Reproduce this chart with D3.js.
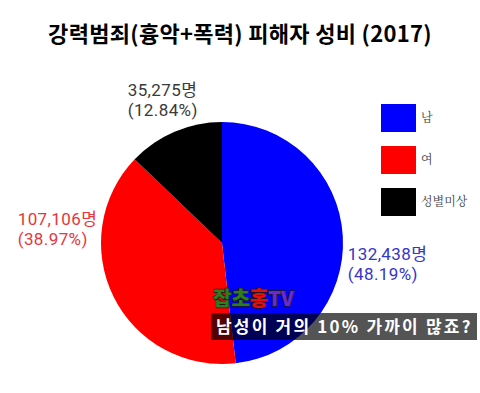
<!DOCTYPE html>
<html>
<head>
<meta charset="utf-8">
<script src="https://cdn.jsdelivr.net/npm/d3@7"></script>
<style>
  body { margin: 0; background: #fff; }
  svg { display: block; }
</style>
</head>
<body>
<svg id="chart" width="480" height="393"></svg>
<script>
// data
const categories = ['남', '여', '성별미상'];
const counts = [132438, 107106, 35275];
const percents = ['48.19%', '38.97%', '12.84%'];
const colors = ['#0000ff', '#ff0000', '#000000'];
const labelColors = ['#3535c8', '#e8363c', '#3a3a3a'];

const svg = d3.select('#chart');
const cx = 222, cy = 243, r = 121;

// title
svg.append('text')
    .attr('x', 240)
    .attr('y', 42)
    .attr('text-anchor', 'middle')
    .style('font-family', '"Noto Sans CJK KR", sans-serif')
    .style('font-weight', 700)
    .style('font-size', '22px')
    .style('letter-spacing', '0.3px')
    .text('강력범죄(흉악+폭력) 피해자 성비 (2017)');

const pie = d3.pie().sort(null).value(d => d);
const arcs = pie(counts);
const arc = d3.arc().innerRadius(0).outerRadius(r);

const g = svg.append('g').attr('transform', `translate(${cx},${cy})`);

g.selectAll('path')
    .data(arcs)
    .enter().append('path')
    .attr('d', arc)
    .attr('fill', (d, i) => colors[i]);

// data labels, placed off the outer arc then nudged
const labelArc = d3.arc().innerRadius(r + 20).outerRadius(r + 20);
const nudge = [[-15, 25], [-78, -81], [-39, -17]];
const fmt = d3.format(',');

arcs.forEach((d, i) => {
    const [x, y] = labelArc.centroid(d);
    const lines = [fmt(counts[i]) + '명', '(' + percents[i] + ')'];
    lines.forEach((s, j) => {
        g.append('text')
            .attr('x', x + nudge[i][0])
            .attr('y', y + nudge[i][1] + j * 20)
            .attr('fill', labelColors[i])
            .style('font-family', 'Roboto, "Noto Sans CJK KR", sans-serif')
            .style('font-size', '17px')
            .style('letter-spacing', '0.4px')
            .text(s);
    });
});

// legend
const legend = svg.append('g').attr('transform', 'translate(381,104)');
const item = legend.selectAll('g')
    .data(categories)
    .enter().append('g')
    .attr('transform', (d, i) => `translate(0,${i * 42})`);
item.append('rect')
    .attr('width', 35)
    .attr('height', 28)
    .attr('fill', (d, i) => colors[i]);
item.append('text')
    .attr('x', 40)
    .attr('y', 18)
    .attr('fill', '#444')
    .style('font-family', '"Noto Serif CJK KR", "Noto Sans CJK KR", serif')
    .style('font-size', '12px')
    .text(d => d);

// watermark / caption overlay
const wm = svg.append('g');
const logo = wm.append('text')
    .attr('x', 213)
    .attr('y', 306)
    .style('font-family', '"Noto Sans CJK KR", sans-serif')
    .style('font-weight', 900)
    .style('font-size', '20px')
    .attr('stroke', '#1a1a1a')
    .attr('stroke-width', 1.5)
    .attr('paint-order', 'stroke');
logo.append('tspan').attr('fill', '#2e7d1e').text('잡초');
logo.append('tspan').attr('fill', '#e01010').text('홍');
logo.append('tspan').attr('fill', '#6a2ad0').text('TV');

wm.append('rect')
    .attr('x', 211)
    .attr('y', 313)
    .attr('width', 266)
    .attr('height', 27)
    .attr('fill', '#000')
    .attr('fill-opacity', 0.67);
wm.append('text')
    .attr('x', 216)
    .attr('y', 333)
    .attr('fill', '#fff')
    .style('font-family', '"Noto Sans CJK KR", sans-serif')
    .style('font-weight', 700)
    .style('font-size', '17px')
    .style('letter-spacing', '2.2px')
    .text('남성이 거의 10% 가까이 많죠?');
</script>
</body>
</html>
